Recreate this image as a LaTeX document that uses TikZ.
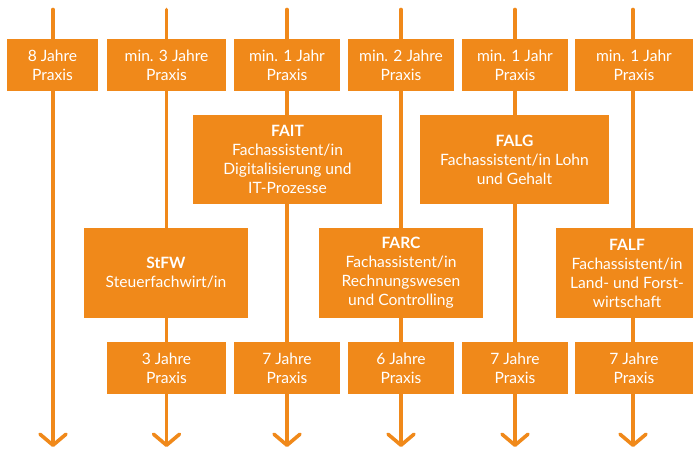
\documentclass[tikz,border=0pt]{standalone}
\usepackage{fontspec}
\setmainfont{Lato}
\usetikzlibrary{arrows.meta}
\definecolor{org}{HTML}{F0891A}
\tikzset{
  flow/.style={draw=org, line width=3.6pt, line cap=round,
    -{Straight Barb[length=11pt,width=26pt,line width=3.6pt,round]}},
  box/.style={fill=org, text=white, inner sep=0pt, align=center,
    font=\fontsize{15.6}{19}\selectfont},
}
\begin{document}
\begin{tikzpicture}[x=1pt,y=-1pt]
\useasboundingbox (0,0) rectangle (693,449);
\begin{scope}
\clip (0,0) rectangle (693,449);
% column coordinates
\foreach \i/\x in {1/53,2/166.5,3/287,4/401,5/515,6/633}{
  \coordinate (top\i) at (\x,9.5);
  \coordinate (bot\i) at (\x,447);
}
\foreach \i in {1,...,6}{ \draw[flow] (top\i) -- (bot\i); }

% top row
\node[box, minimum width=91pt, minimum height=52pt] (p1) at (52.5,65) {8 Jahre\\Praxis};
\node[box, minimum width=119pt, minimum height=52pt] (p2) at (166.5,65) {min. 3 Jahre\\Praxis};
\node[box, minimum width=106pt, minimum height=52pt] (p3) at (287,65) {min. 1 Jahr\\Praxis};
\node[box, minimum width=106pt, minimum height=52pt] (p4) at (401,65) {min. 2 Jahre\\Praxis};
\node[box, minimum width=106pt, minimum height=52pt] (p5) at (515,65) {min. 1 Jahr\\Praxis};
\node[box, minimum width=118pt, minimum height=52pt] (p6) at (634,65) {min. 1 Jahr\\Praxis};

% middle row
\node[box, minimum width=189pt, minimum height=89pt] (fait) at (287.5,159.5) {\textbf{FAIT}\\Fachassistent/in\\Digitalisierung und\\IT-Prozesse};
\node[box, minimum width=189pt, minimum height=89pt] (falg) at (514.5,159.5) {\textbf{FALG}\\Fachassistent/in Lohn\\und Gehalt};

% lower row
\node[box, minimum width=164pt, minimum height=90pt] (stfw) at (166,273) {\textbf{StFW}\\Steuerfachwirt/in};
\node[box, minimum width=164pt, minimum height=90pt] (farc) at (401,273) {\textbf{FARC}\\Fachassistent/in\\Rechnungswesen\\und Controlling};
\node[box, minimum width=142pt, minimum height=90pt] (falf) at (627,273) {\textbf{FALF}\\Fachassistent/in\\Land- und Forst-\\wirtschaft};

% bottom row
\node[box, minimum width=119pt, minimum height=52pt] (q2) at (166.5,368) {3 Jahre\\Praxis};
\node[box, minimum width=106pt, minimum height=52pt] (q3) at (287,368) {7 Jahre\\Praxis};
\node[box, minimum width=106pt, minimum height=52pt] (q4) at (401,368) {6 Jahre\\Praxis};
\node[box, minimum width=106pt, minimum height=52pt] (q5) at (515,368) {7 Jahre\\Praxis};
\node[box, minimum width=118pt, minimum height=52pt] (q6) at (634,368) {7 Jahre\\Praxis};
\end{scope}
\end{tikzpicture}
\end{document}
